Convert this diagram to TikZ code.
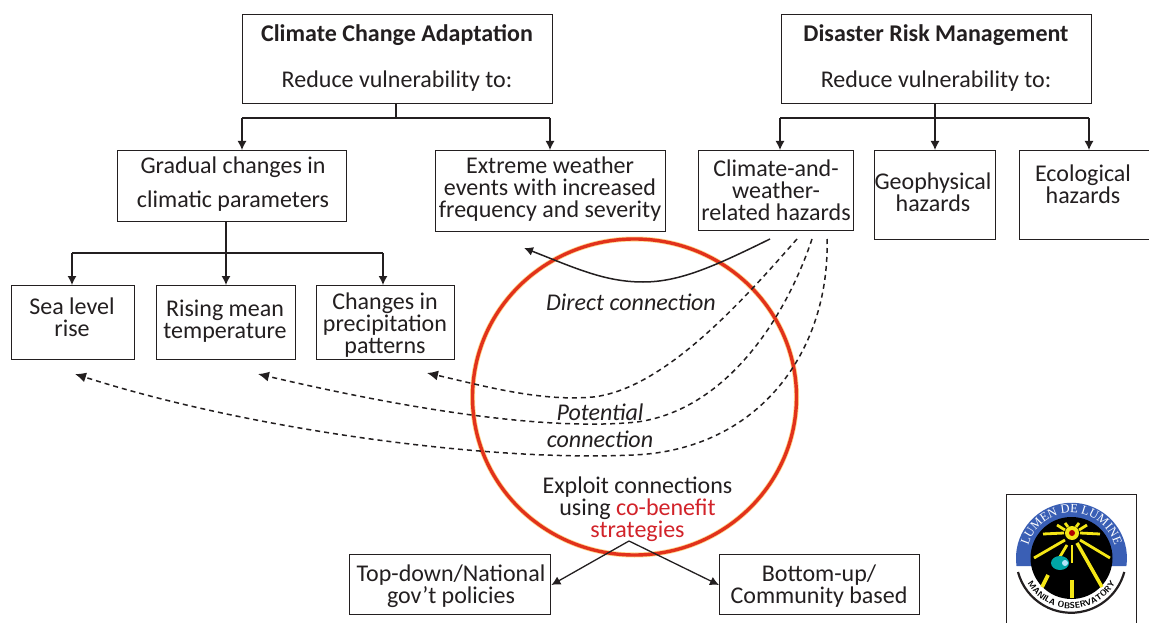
\documentclass[tikz,border=0pt]{standalone}
\usepackage{fontspec}
\setmainfont{Carlito}
\newfontfamily\logofont{Liberation Serif}
\usetikzlibrary{arrows.meta,decorations.text}
\definecolor{ink}{HTML}{231F20}
\definecolor{cored}{HTML}{D2232A}
\definecolor{ringred}{HTML}{E2321B}
\definecolor{logoblue}{HTML}{3A5FB5}
\definecolor{logoyel}{HTML}{F4E616}
\tikzset{
  x=1pt,y=-1pt,
  box/.style={draw=ink,line width=1.4pt,fill=white,inner sep=0pt,anchor=north west},
  txt/.style={text=ink,align=center,font=\fontsize{24}{22}\selectfont,inner sep=0pt},
  btx/.style={txt,font=\fontsize{24}{22}\selectfont\bfseries},
  itx/.style={txt,font=\fontsize{24}{22}\selectfont\itshape},
  link/.style={draw=ink,line width=1.3pt},
  arr/.style={link,-{Latex[length=9pt,width=9pt]}},
  dsh/.style={draw=ink,line width=1.5pt,dash pattern=on 5pt off 4pt,-{Latex[length=11pt,width=10pt]}},
  ray/.style={draw=logoyel,line width=2.8pt},
}
\begin{document}
\begin{tikzpicture}
\useasboundingbox (0,0) rectangle (1149,623);
\fill[white] (0,0) rectangle (1149,623);
% boxes
\node[box,minimum width=310,minimum height=89] (cca) at (242,14) {};
\node[box,minimum width=310,minimum height=89] (drm) at (781,14) {};
\node[box,minimum width=229,minimum height=71] (grad) at (117,150) {};
\node[box,minimum width=230,minimum height=81] (extr) at (435,150) {};
\node[box,minimum width=155,minimum height=80] (clim) at (698,150) {};
\node[box,minimum width=121,minimum height=89] (geo) at (874,150) {};
\node[box,minimum width=135,minimum height=89] (eco) at (1019,150) {};
\node[box,minimum width=123,minimum height=74] (sea) at (11,285) {};
\node[box,minimum width=139,minimum height=74] (rise) at (156,285) {};
\node[box,minimum width=138,minimum height=74] (prec) at (316,285) {};
\node[box,minimum width=201,minimum height=60] (top) at (349,554) {};
\node[box,minimum width=200,minimum height=60] (bot) at (719,554) {};
% texts in boxes
\node[btx] (t1) at (397,35) {Climate Change Adaptation};
\node[txt] (t2) at (397,81) {Reduce vulnerability to:};
\node[btx] (t3) at (936,35) {Disaster Risk Management};
\node[txt] (t4) at (936,81) {Reduce vulnerability to:};
\node[txt] (t5) at (233,184) {Gradual changes in\\[12pt]climatic parameters};
\node[txt] (t6) at (550,189) {Extreme weather\\events with increased\\frequency and severity};
\node[txt] (t7) at (776,190) {Climate-and-\\weather-\\related hazards};
\node[txt] (t8) at (933,192) {Geophysical\\hazards};
\node[txt] (t9) at (1083,184) {Ecological\\hazards};
\node[txt] (t10) at (72,317) {Sea level\\rise};
\node[txt] (t11) at (225,321) {Rising mean\\temperature};
\node[txt] (t12) at (385,325) {Changes in\\precipitation\\patterns};
\node[txt] (t13) at (451,586) {Top-down/National\\gov’t policies};
\node[txt] (t14) at (819,586) {Bottom-up/\\Community based};
% tree connectors
\coordinate (ccaj) at (396,118);
\coordinate (ccal) at (242,118);
\coordinate (ccar) at (550,118);
\draw[link] (cca.south -| ccaj) -- (ccaj);
\draw[link] (ccal) -- (ccar);
\draw[arr] (ccal) -- (ccal |- grad.north);
\draw[arr] (ccar) -- (ccar |- extr.north);
\coordinate (drmj) at (935,118);
\coordinate (drml) at (780,118);
\coordinate (drmr) at (1089,118);
\draw[link] (drml) -- (drmr);
\draw[arr] (drm.south -| drmj) -- (drmj |- geo.north);
\draw[arr] (drml) -- (drml |- clim.north);
\draw[arr] (drmr) -- (drmr |- eco.north);
\coordinate (gj) at (226,253);
\coordinate (gl) at (72,253);
\coordinate (gr) at (383,253);
\draw[link] (gl) -- (gr);
\draw[arr] (grad.south -| gj) -- (gj |- rise.north);
\draw[arr] (gl) -- (gl |- sea.north);
\draw[arr] (gr) -- (gr |- prec.north);
% circle
\coordinate (ctr) at (634.5,397);
\draw[draw=orange!70!yellow,line width=5pt,opacity=.45] (ctr) ellipse [x radius=162,y radius=158];
\draw[draw=ringred,line width=3.4pt] (ctr) ellipse [x radius=162,y radius=158];
% curves
\coordinate (d0) at (770,239);
\coordinate (dm) at (643,282);
\coordinate (d1) at (524,248);
\draw[arr,line width=1.5pt] (d0) .. controls (715,266) and (680,282) .. (dm) .. controls (605,282) and (575,268) .. (d1);
\coordinate (a0) at (797,239);
\coordinate (am) at (593,397);
\coordinate (a1) at (427,373);
\draw[dsh] (a0) .. controls (745,298) and (665,389) .. (am) .. controls (540,402) and (480,385) .. (a1);
\coordinate (b0) at (812,239);
\coordinate (bm) at (637,422);
\coordinate (b1) at (258,374);
\draw[dsh] (b0) .. controls (785,320) and (725,410) .. (bm) .. controls (540,432) and (390,405) .. (b1);
\coordinate (c0) at (827,239);
\coordinate (cm) at (633,455);
\coordinate (c1) at (75,374);
\draw[dsh] (c0) .. controls (830,350) and (760,450) .. (cm) .. controls (490,462) and (250,430) .. (c1);
% inner labels
\node[itx] (l1) at (631,302) {Direct connection};
\node[itx] (l2) at (600,412) {Potential};
\node[itx] (l3) at (600,439) {connection};
\node[txt] (l4) at (637.5,509) {Exploit connections\\using \textcolor{cored}{co-benefit}\\\textcolor{cored}{strategies}};
% branch arrows
\coordinate (sp) at (629,541);
\coordinate (te) at (top.east |- 0,585);
\coordinate (be) at (bot.west |- 0,585);
\draw[arr] (sp) -- (te);
\draw[arr] (sp) -- (be);
% logo
\node[box,minimum width=130,minimum height=135] (logo) at (1006,494) {};
\coordinate (lc) at (1071.5,558);
\fill[white] (lc) circle (55);
\fill[logoblue] (1016.5,566) arc[start angle=172,end angle=368,radius=55.5] -- cycle;
\draw[ink,line width=2.2pt] (1018,572) arc[start angle=165,end angle=15,radius=55];
\fill[black] (lc) circle (41);
\coordinate (sun) at (1072,533);
\draw[ray] (1080,533) -- (1100,534);
\draw[ray] (1064,533) -- (1043,534);
\draw[ray] (1057,525) -- (1065,530);
\draw[ray] (1087,525) -- (1079,530);
\draw[ray] (1065,523) -- (1068,527);
\draw[ray] (1079,523) -- (1076,527);
\draw[ray] (1065,540) -- (1034,558);
\draw[ray] (1080,540) -- (1110,558);
\draw[ray] (1067,545) -- (1058,560);
\draw[ray,line width=3.8pt] (1048,575) -- (1042,587);
\draw[ray] (1072,545) -- (1072,563);
\draw[ray,line width=4.5pt] (1072,580) -- (1072,598);
\draw[ray,line width=3.5pt] (1077,543) -- (1102,587);
\fill[logoyel] (sun) circle (7);
\fill[red!70!black] (sun) circle (3);
\fill[teal!70!cyan] (1060,563) ellipse [x radius=9,y radius=7];
\fill[white!70!cyan] (1065,563) circle (3);
\path[decorate,decoration={text along path,text align=center,text={|\logofont\fontsize{12.5}{13}\selectfont\color{white}|LUMEN DE LUMINE}}] (1026.5,561) arc[start angle=176,end angle=364,radius=45];
\path[decorate,decoration={text along path,text align=center,text={|\sffamily\fontsize{8.5}{10}\selectfont\bfseries\color{black}|MANILA OBSERVATORY}}] (1023.5,575.1) arc[start angle=160,end angle=20,radius=51];
\end{tikzpicture}
\end{document}
